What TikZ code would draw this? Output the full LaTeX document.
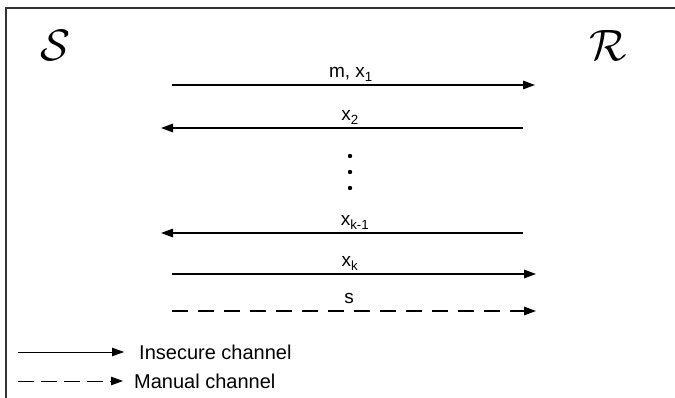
\documentclass[tikz,border=0pt]{standalone}
\usepackage{fontspec}
\setmainfont{Liberation Sans}
\usetikzlibrary{arrows.meta}
\begin{document}
\begin{tikzpicture}[x=1pt,y=-1pt,
  msg/.style={line width=1.3pt,-{Triangle[length=12pt,width=8.5pt]}},
  man/.style={msg,dash pattern=on 16pt off 10pt},
  lbl/.style={anchor=base,inner sep=0pt,font=\fontsize{19}{19}\selectfont},
  leg/.style={anchor=base west,inner sep=0pt,font=\fontsize{20}{20}\selectfont},
  party/.style={inner sep=0pt},
  frame/.style={line width=1.8pt,draw=black!80}]
\useasboundingbox (0,0) rectangle (675,398);
\coordinate (fa) at (6,398);
\coordinate (fb) at (6,8);
\coordinate (fc) at (675,8);
\draw[frame] (fa) -- (fb) -- (fc);
\node[party] (S) at (55,45) {\scalebox{4.4}{$\mathcal{S}$}};
\node[party] (R) at (608,45) {\scalebox{4.4}{$\mathcal{R}$}};
% message 1
\coordinate (a1) at (172,85); \coordinate (b1) at (535,85);
\draw[msg] (a1) -- (b1);
\node[lbl] (l1) at (351,78) {m, x\textsubscript{1}};
% message 2
\coordinate (a2) at (523,128); \coordinate (b2) at (161,128);
\draw[msg] (a2) -- (b2);
\node[lbl] (l2) at (350,121) {x\textsubscript{2}};
% dots
\fill (350,156) circle (2.2pt);
\fill (350,172) circle (2.2pt);
\fill (350,188) circle (2.2pt);
% message k-1
\coordinate (a3) at (523,233); \coordinate (b3) at (161,233);
\draw[msg] (a3) -- (b3);
\node[lbl] (l3) at (355,226) {x\textsubscript{k-1}};
% message k
\coordinate (a4) at (172,274); \coordinate (b4) at (536,274);
\draw[msg] (a4) -- (b4);
\node[lbl] (l4) at (350,267) {x\textsubscript{k}};
% manual s
\coordinate (a5) at (172,311); \coordinate (b5) at (536,311);
\draw[man] (a5) -- (b5);
\node[lbl] (l5) at (349,304) {s};
% legend
\coordinate (la1) at (18,352); \coordinate (lb1) at (124,352);
\draw[msg,line width=1pt] (la1) -- (lb1);
\node[leg] (t1) at (139,359) {Insecure channel};
\coordinate (la2) at (18,381); \coordinate (lb2) at (123,381);
\draw[man,line width=1pt,dash pattern=on 16pt off 7pt] (la2) -- (lb2);
\node[leg] (t2) at (134,388) {Manual channel};
\end{tikzpicture}
\end{document}
